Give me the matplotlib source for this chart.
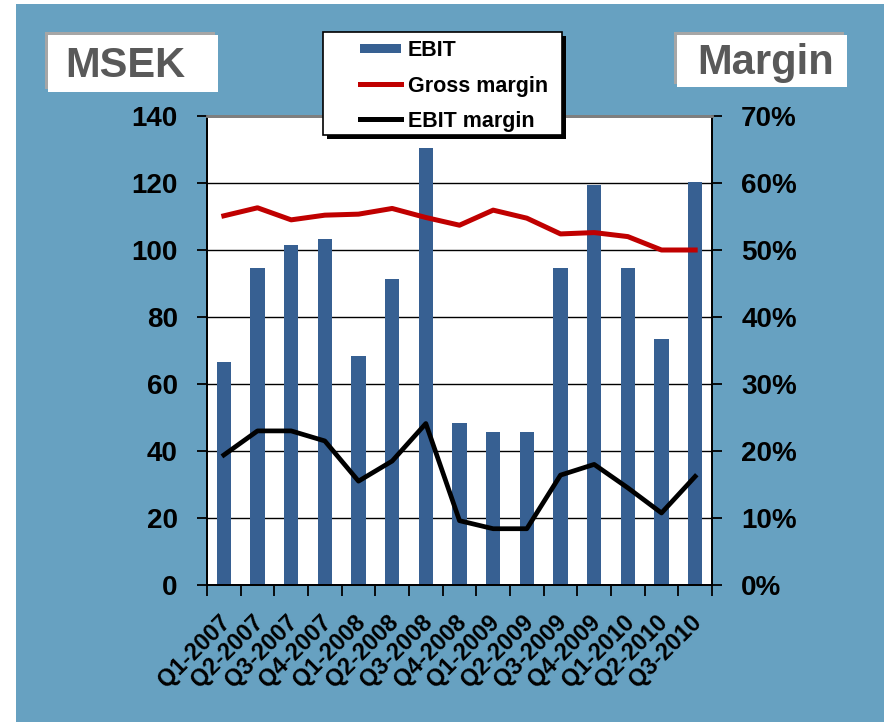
import matplotlib
matplotlib.use("Agg")
import matplotlib.pyplot as plt
import matplotlib.transforms as mtransforms
from matplotlib.patches import Rectangle, Patch
from matplotlib.lines import Line2D
from matplotlib.legend_handler import HandlerPatch
from matplotlib.ticker import FuncFormatter, MultipleLocator

plt.rcParams['font.family'] = ['Liberation Sans', 'DejaVu Sans']
plt.rcParams['font.weight'] = 'bold'

# data
quarters = ["Q1-2007", "Q2-2007", "Q3-2007", "Q4-2007", "Q1-2008", "Q2-2008",
            "Q3-2008", "Q4-2008", "Q1-2009", "Q2-2009", "Q3-2009", "Q4-2009",
            "Q1-2010", "Q2-2010", "Q3-2010"]
ebit = [66.6, 94.5, 101.5, 103.4, 68.4, 91.2, 130.5, 48.3, 45.6, 45.6,
        94.5, 119.4, 94.5, 73.5, 120.3]
gross_margin = [55.1, 56.3, 54.5, 55.2, 55.35, 56.2, 54.85, 53.7, 55.95, 54.75,
                52.4, 52.6, 52.0, 50.0, 50.0]
ebit_margin = [19.4, 23.0, 23.0, 21.5, 15.5, 18.5, 24.1, 9.6, 8.4, 8.4,
               16.4, 18.0, 14.5, 10.75, 16.2]

BG = "#67a1c1"
BAR = "#376092"
RED = "#c00000"
GREY_TXT = "#595959"

W, H = 884, 722
fig = plt.figure(figsize=(W / 100, H / 100), dpi=100)
fig.patch.set_facecolor("white")


def px_rect(x0, y0, x1, y1, **kw):
    # rectangle given in pixel coords (origin top-left)
    r = Rectangle((x0 / W, 1 - y1 / H), (x1 - x0) / W, (y1 - y0) / H,
                  transform=fig.transFigure, **kw)
    fig.patches.append(r)
    return r


# blue slide background
px_rect(16, 4, W + 2, H + 2, facecolor=BG, edgecolor="none", zorder=-20)

ax = fig.add_axes([207 / W, 1 - 585 / H, 505 / W, 469 / H])
ax.set_facecolor("white")
x = list(range(len(quarters)))
ax.bar(x, ebit, width=0.42, color=BAR, zorder=2, label="EBIT")
ax.set_ylim(0, 140)
ax.set_xlim(-0.5, len(quarters) - 0.5)
ax.yaxis.set_major_locator(MultipleLocator(20))
ax.grid(axis="y", color="black", linewidth=1.0)
ax.set_axisbelow(True)

ax2 = ax.twinx()
ax2.plot(x, gross_margin, color=RED, linewidth=3.6, label="Gross margin", zorder=3)
ax2.plot(x, ebit_margin, color="black", linewidth=3.4, label="EBIT margin", zorder=3)
ax2.set_ylim(0, 70)
ax2.yaxis.set_major_locator(MultipleLocator(10))
ax2.yaxis.set_major_formatter(FuncFormatter(lambda v, p: f"{v:.0f}%"))

for a in (ax, ax2):
    for s in ("left", "right", "bottom"):
        a.spines[s].set_color("black")
        a.spines[s].set_linewidth(1.3)
    a.spines["top"].set_color("#7f7f7f")
    a.spines["top"].set_linewidth(2)

ax.tick_params(axis="y", direction="out", length=7, width=1.3, pad=14,
               labelsize=20)
ax2.tick_params(axis="y", direction="out", length=7, width=1.3, pad=14,
                labelsize=20)
for lab in ax.get_yticklabels() + ax2.get_yticklabels():
    lab.set_fontweight("bold")

# x ticks: marks at category boundaries, labels at centers
ax.set_xticks([i + 0.5 for i in range(-1, len(quarters))], minor=True)
ax.tick_params(axis="x", which="minor", direction="out", length=8, width=1.3)
ax.set_xticks(x)
ax.set_xticklabels(quarters, rotation=45, ha="right", va="center",
                   rotation_mode="anchor", fontsize=17, fontweight="bold")
ax.tick_params(axis="x", which="major", length=0, pad=24)
shift = mtransforms.ScaledTranslation(3 / 100, 0, fig.dpi_scale_trans)
for lab in ax.get_xticklabels():
    lab.set_transform(lab.get_transform() + shift)

# legend box with dark shadow
px_rect(327, 36, 566, 139, facecolor="black", edgecolor="none", zorder=5)
px_rect(323, 32, 562, 135, facecolor="white", edgecolor="black",
        linewidth=1.2, zorder=6)


def small_patch(legend, orig_handle, xdescent, ydescent, width, height, fontsize):
    return Rectangle((-xdescent, -ydescent + height * 0.2), width, height * 0.6)


handles = [Patch(facecolor=BAR, label="EBIT"),
           Line2D([], [], color=RED, linewidth=3.6, label="Gross margin"),
           Line2D([], [], color="black", linewidth=3.6, label="EBIT margin")]
leg = fig.legend(handles=handles, loc="upper left",
                 bbox_to_anchor=(342 / W, 1 - 22 / H), frameon=False,
                 prop={"size": 15.5, "weight": "bold"}, handlelength=1.9,
                 handletextpad=0.3, labelspacing=0.66, borderpad=0.35,
                 handler_map={Patch: HandlerPatch(patch_func=small_patch)})
leg.set_zorder(7)

# MSEK and Margin title boxes with grey shadow up-left
px_rect(45, 32, 215, 89, facecolor="#a6a6a6", edgecolor="none", zorder=5)
px_rect(48, 35, 218, 92, facecolor="white", edgecolor="none", zorder=6)
fig.text(125 / W, 1 - 66 / H, "MSEK", fontsize=30, fontweight="bold",
         color=GREY_TXT, ha="center", va="center", zorder=7)

px_rect(674, 32, 844, 84, facecolor="#a6a6a6", edgecolor="none", zorder=5)
px_rect(677, 35, 847, 87, facecolor="white", edgecolor="none", zorder=6)
fig.text(766 / W, 1 - 63 / H, "Margin", fontsize=30, fontweight="bold",
         color=GREY_TXT, ha="center", va="center", zorder=7)

fig.savefig("out.png", dpi=100, facecolor=fig.get_facecolor())
